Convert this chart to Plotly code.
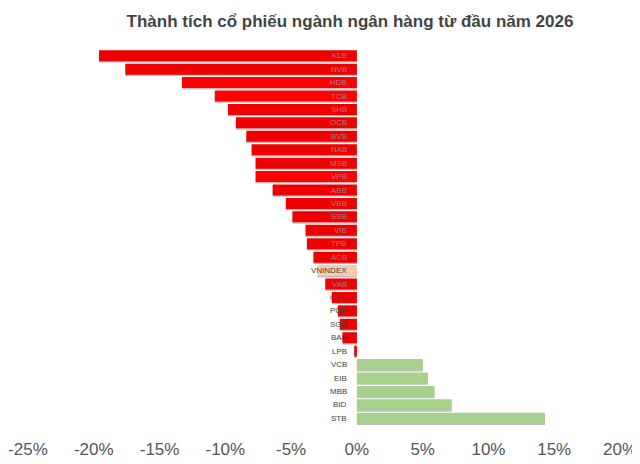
import plotly.graph_objects as go

tickers = ["KLB", "NVB", "HDB", "TCB", "SHB", "OCB", "BVB", "NAB", "MSB", "VPB",
           "ABB", "VBB", "SSB", "VIB", "TPB", "ACB", "VNINDEX", "VAB", "CTG", "PGB",
           "SGB", "BAB", "LPB", "VCB", "EIB", "MBB", "BID", "STB"]
returns = [-19.6, -17.6, -13.3, -10.8, -9.8, -9.2, -8.4, -8.0, -7.7, -7.7,
           -6.4, -5.4, -4.9, -3.9, -3.8, -3.3, -3.0, -2.4, -1.9, -1.45,
           -1.3, -1.1, -0.2, 5.0, 5.4, 5.9, 7.2, 14.3]
x_ticks = [-25, -20, -15, -10, -5, 0, 5, 10, 15, 20]
x_tick_labels = ["-25%", "-20%", "-15%", "-10%", "-5%", "0%", "5%", "10%", "15%", "20%"]
title_text = "Thành tích cổ phiếu ngành ngân hàng từ đầu năm 2026"

bright = {"HDB", "TCB", "VPB"}
colors = []
for t, v in zip(tickers, returns):
    if t == "VNINDEX":
        colors.append("#F8CBAD")
    elif v >= 0:
        colors.append("#A9D18E")
    elif t in bright:
        colors.append("#FF0000")
    else:
        colors.append("#EE0000")

# label colour: faded when sitting fully on a red bar, dark otherwise
label_colors = []
for t, v in zip(tickers, returns):
    if t != "VNINDEX" and v <= -2.3:
        label_colors.append("rgba(150,150,150,0.85)")
    else:
        label_colors.append("#444444")

fig = go.Figure()
# soft shadow
fig.add_trace(go.Bar(
    y=tickers, x=returns, orientation="h",
    marker=dict(color="rgba(110,110,110,0.45)", line=dict(width=0)),
    width=0.82, offset=-0.31, hoverinfo="skip", showlegend=False,
))
fig.add_trace(go.Bar(
    y=tickers, x=returns, orientation="h",
    marker=dict(color=colors, line=dict(width=0)),
    width=0.82, offset=-0.41, showlegend=False,
))

for t, c in zip(tickers, label_colors):
    fig.add_annotation(x=0, y=t, text=t, showarrow=False, xanchor="right",
                       xshift=-8, font=dict(family="Liberation Sans", size=8, color=c))

# page body has an 8px default margin, so the figure is 632x456
W, H = 632, 456
fig.update_layout(
    width=W, height=H,
    margin=dict(l=20, r=20, t=41, b=39, autoexpand=False),
    paper_bgcolor="white", plot_bgcolor="white",
    barmode="overlay",
    title=dict(text="<b>" + title_text + "</b>", x=342 / W, xanchor="center",
               y=1 - 13 / H, yanchor="middle",
               font=dict(family="Liberation Sans", size=17, color="#444444")),
    xaxis=dict(range=[-25, 20], autorange=False, automargin=False,
               tickvals=x_ticks, ticktext=x_tick_labels,
               ticklabeloverflow="allow",
               showgrid=False, zeroline=False, showline=False, ticks="",
               ticklabelstandoff=12,
               tickfont=dict(family="Liberation Sans", size=17, color="#555555")),
    yaxis=dict(autorange=False, range=[27.5, -0.5], automargin=False,
               showticklabels=False, showgrid=False,
               zeroline=False, showline=False, ticks=""),
)

fig.write_html("out.html")
